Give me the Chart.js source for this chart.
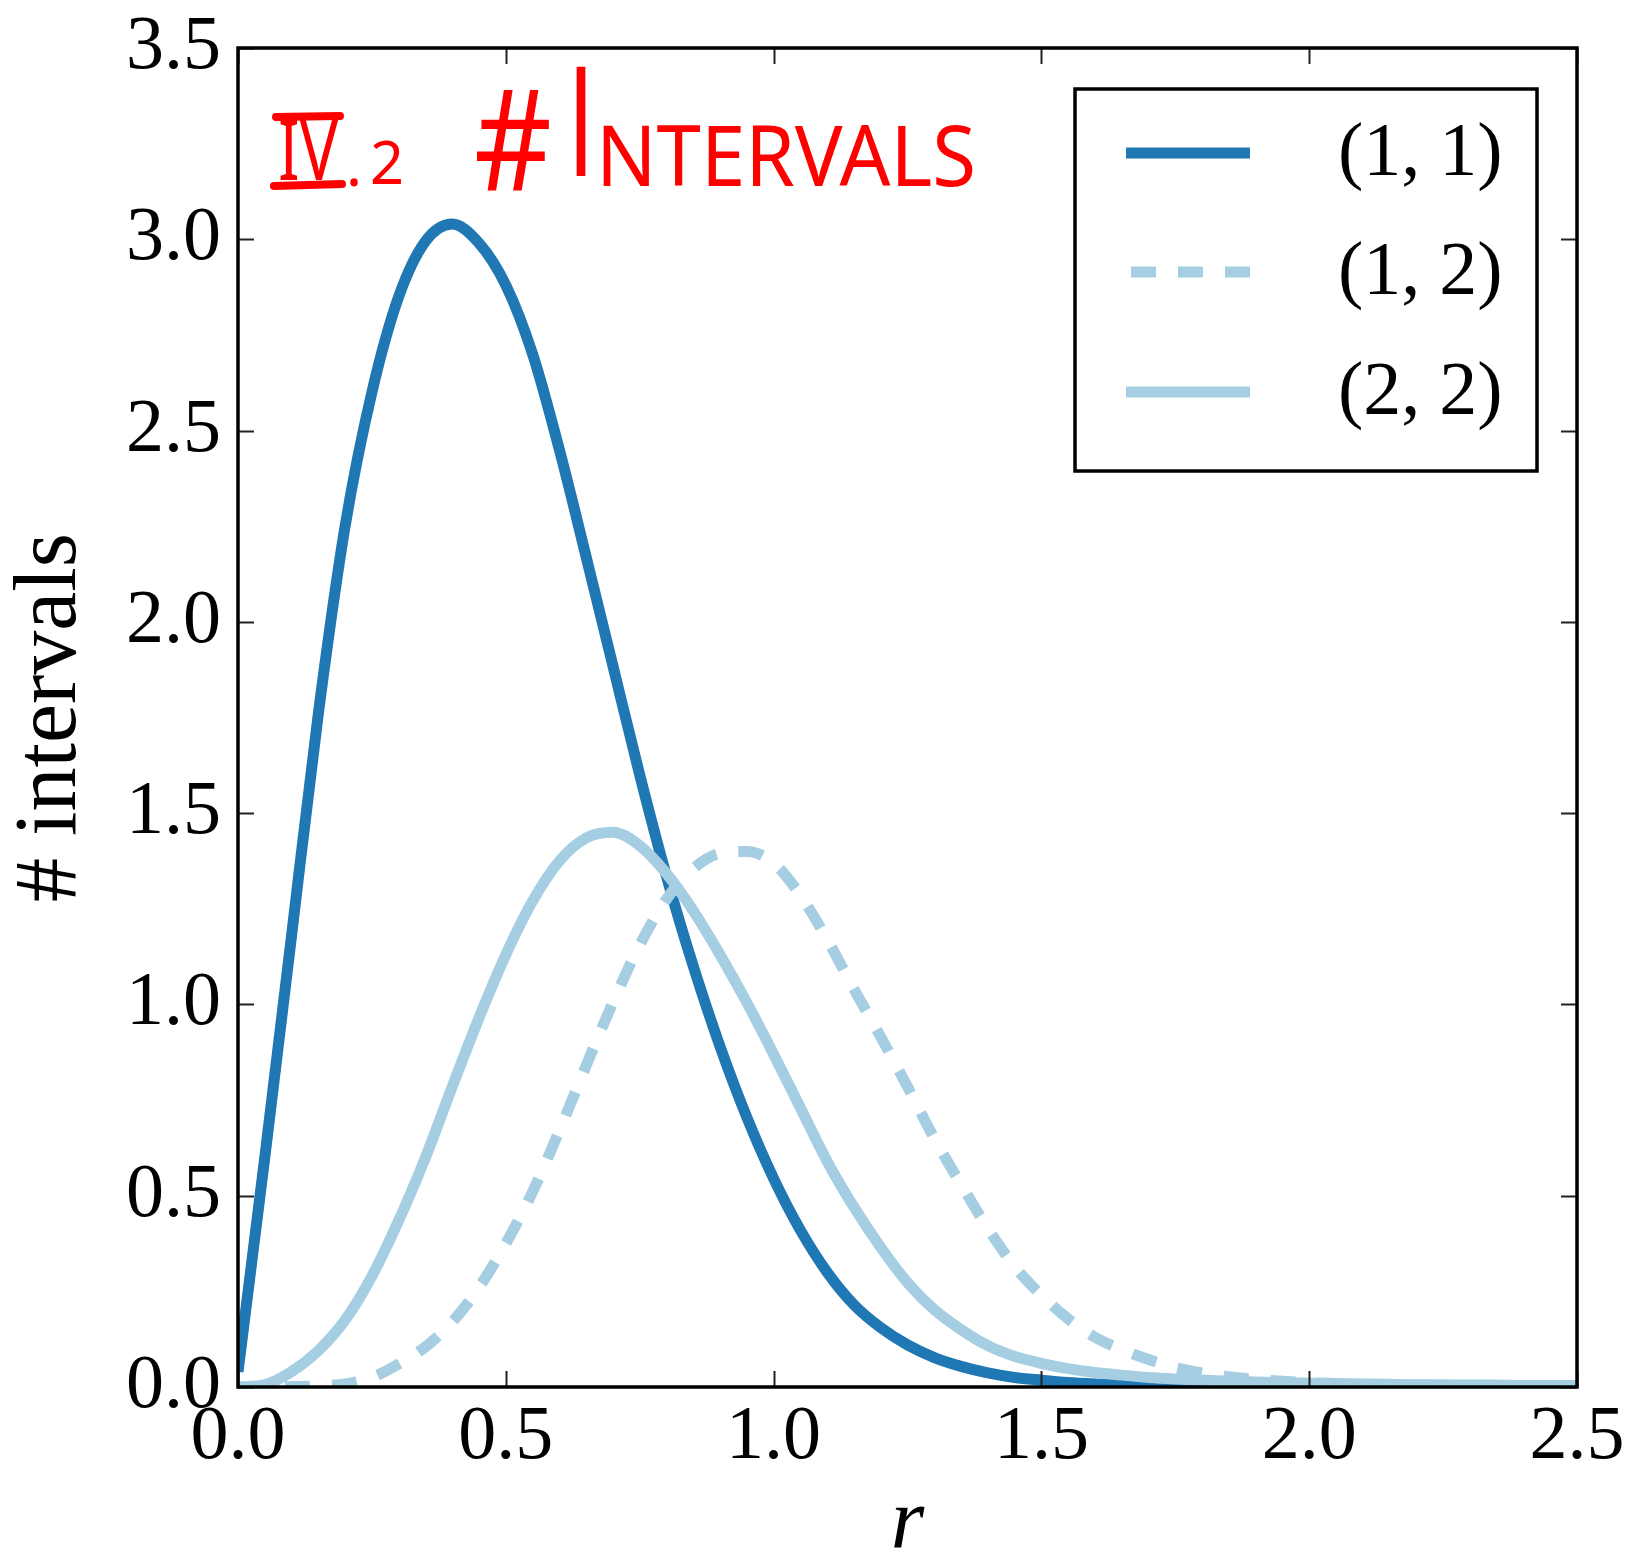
<!DOCTYPE html>
<html>
<head>
<meta charset="utf-8">
<script src="https://cdn.jsdelivr.net/npm/chart.js@4.4.1/dist/chart.umd.min.js"></script>
<style>
    html, body { margin: 0; padding: 0; background: #fff; }
    #wrap { width: 1629px; height: 1560px; position: relative; }
</style>
</head>
<body>
<div id="wrap"><canvas id="myChart"></canvas></div>
<script>
// r values (x axis)
const rValues = [
    0.00, 0.05, 0.10, 0.15, 0.20, 0.25, 0.30, 0.35, 0.40, 0.45,
    0.50, 0.55, 0.60, 0.65, 0.70, 0.75, 0.80, 0.85, 0.90, 0.95,
    1.00, 1.05, 1.10, 1.15, 1.20, 1.25, 1.30, 1.35, 1.40, 1.45,
    1.50, 1.55, 1.60, 1.65, 1.70, 1.75, 1.80, 1.85, 1.90, 1.95,
    2.00, 2.05, 2.10, 2.15, 2.20, 2.25, 2.30, 2.35, 2.40, 2.45, 2.50
];
// (1, 1)
const series11 = [
    0.04, 0.60, 1.18, 1.76, 2.25, 2.60, 2.85, 2.995, 3.04, 2.99,
    2.88, 2.70, 2.45, 2.17, 1.885, 1.60, 1.335, 1.10, 0.89, 0.705,
    0.545, 0.41, 0.30, 0.215, 0.155, 0.11, 0.077, 0.054, 0.037, 0.025,
    0.018, 0.012, 0.008, 0.005, 0.003, 0.002, 0.001, 0, 0, 0,
    0, 0, 0, 0, 0, 0, 0, 0, 0, 0, 0
];
// (1, 2)
const series12 = [
    0, 0, 0.001, 0.003, 0.008, 0.025, 0.06, 0.105, 0.17, 0.26,
    0.375, 0.51, 0.67, 0.84, 1.005, 1.155, 1.275, 1.355, 1.395, 1.40,
    1.37, 1.285, 1.17, 1.04, 0.915, 0.785, 0.65, 0.53, 0.415, 0.315,
    0.24, 0.178, 0.13, 0.098, 0.072, 0.051, 0.037, 0.027, 0.02, 0.015,
    0.011, 0.009, 0.007, 0.006, 0.005, 0.004, 0.003, 0.003, 0.002, 0.002, 0.002
];
// (2, 2)
const series22 = [
    0, 0.006, 0.04, 0.095, 0.175, 0.29, 0.435, 0.60, 0.785, 0.965,
    1.13, 1.27, 1.375, 1.435, 1.45, 1.415, 1.342, 1.245, 1.13, 1.005,
    0.87, 0.73, 0.59, 0.47, 0.365, 0.273, 0.202, 0.15, 0.108, 0.08,
    0.062, 0.048, 0.038, 0.031, 0.025, 0.021, 0.018, 0.015, 0.013, 0.011,
    0.01, 0.009, 0.008, 0.007, 0.006, 0.006, 0.005, 0.005, 0.004, 0.004, 0.004
];
const seriesNames = ["(1, 1)", "(1, 2)", "(2, 2)"];
const xTicks = [0, 0.5, 1.0, 1.5, 2.0, 2.5];
const yTicks = [0, 0.5, 1.0, 1.5, 2.0, 2.5, 3.0, 3.5];

const darkBlue = "#1f78b4";
const lightBlue = "#a6cee3";
const serif = "'Liberation Serif', 'DejaVu Serif', serif";

function toPoints(ys) {
    return rValues.map((r, i) => ({ x: r, y: ys[i] }));
}

// ticks inside, frame, legend box and the red note
const framePlugin = {
    id: "frame",
    afterDatasetsDraw(chart) {
        const { ctx, chartArea: a, scales } = chart;
        ctx.save();

        // ticks on all four sides, pointing inward
        ctx.strokeStyle = "#222";
        ctx.lineWidth = 2;
        const tl = 16;
        ctx.beginPath();
        xTicks.forEach((v) => {
            const px = Math.round(scales.x.getPixelForValue(v)) + 0.5;
            ctx.moveTo(px, a.bottom); ctx.lineTo(px, a.bottom - tl);
            ctx.moveTo(px, a.top); ctx.lineTo(px, a.top + tl);
        });
        yTicks.forEach((v) => {
            const py = Math.round(scales.y.getPixelForValue(v)) + 0.5;
            ctx.moveTo(a.left, py); ctx.lineTo(a.left + tl, py);
            ctx.moveTo(a.right, py); ctx.lineTo(a.right - tl, py);
        });
        ctx.stroke();

        ctx.strokeStyle = "#000";
        ctx.lineWidth = 3.5;
        ctx.strokeRect(a.left, a.top, a.right - a.left, a.bottom - a.top);

        // legend
        const lx = 1075, ly = 89, lw = 462, lh = 382;
        ctx.fillStyle = "#fff";
        ctx.fillRect(lx, ly, lw, lh);
        ctx.lineWidth = 3.5;
        ctx.strokeRect(lx, ly, lw, lh);
        const rows = [153, 272, 392];
        chart.data.datasets.forEach((ds, i) => {
            const y = rows[i];
            ctx.beginPath();
            ctx.strokeStyle = ds.borderColor;
            ctx.lineWidth = ds.borderWidth;
            ctx.lineCap = "butt";
            ctx.setLineDash(ds.borderDash || []);
            ctx.lineDashOffset = -5;
            ctx.moveTo(1126, y);
            ctx.lineTo(1250, y);
            ctx.stroke();
            ctx.setLineDash([]);
            ctx.fillStyle = "#000";
            ctx.font = "76px " + serif;
            ctx.textBaseline = "middle";
            ctx.textAlign = "left";
            ctx.fillText(seriesNames[i], 1338, y + 2);
        });

        // handwritten red note
        ctx.fillStyle = "#ff0000";
        ctx.strokeStyle = "#ff0000";
        ctx.textBaseline = "alphabetic";
        ctx.textAlign = "left";
        ctx.font = "84px 'Noto Sans'";
        ctx.fillText("IV", 278, 180, 60);
        ctx.lineWidth = 8;
        ctx.lineCap = "round";
        ctx.beginPath();
        ctx.moveTo(276, 117); ctx.lineTo(340, 116);
        ctx.moveTo(274, 186); ctx.lineTo(342, 184);
        ctx.stroke();
        ctx.font = "60px 'Noto Sans'";
        ctx.fillText(".", 346, 186);
        ctx.fillText("2", 370, 184, 34);
        ctx.font = "140px 'Noto Sans'";
        ctx.fillText("#", 474, 190, 78);
        ctx.font = "150px 'DejaVu Sans'";
        ctx.fillText("I", 568, 176, 26);
        ctx.font = "84px 'Noto Sans'";
        ctx.fillText("NTERVALS", 596, 186, 380);

        ctx.restore();
    }
};

window.onload = function () {
    const ctx = document.getElementById("myChart").getContext("2d");
    Chart.defaults.color = "#000";

    const myChart = new Chart(ctx, {
        type: "line",
        data: {
            datasets: [
                {
                    label: seriesNames[0],
                    data: toPoints(series11),
                    borderColor: darkBlue,
                    borderWidth: 11,
                    order: 3,
                },
                {
                    label: seriesNames[1],
                    data: toPoints(series12),
                    borderColor: lightBlue,
                    borderWidth: 11,
                    borderDash: [25, 22],
                    order: 2,
                },
                {
                    label: seriesNames[2],
                    data: toPoints(series22),
                    borderColor: lightBlue,
                    borderWidth: 11,
                    order: 1,
                },
            ],
        },
        options: {
            responsive: true,
            maintainAspectRatio: false,
            animation: false,
            devicePixelRatio: 1,
            layout: { padding: { left: 0, top: 48, right: 52, bottom: 0 } },
            elements: {
                point: { radius: 0 },
                line: { cubicInterpolationMode: "monotone", fill: false, borderCapStyle: "butt" },
            },
            plugins: {
                legend: { display: false },
                tooltip: { enabled: false },
            },
            scales: {
                x: {
                    type: "linear",
                    min: 0,
                    max: 2.5,
                    grid: { display: false, drawTicks: false },
                    border: { display: false },
                    afterBuildTicks: (s) => { s.ticks = xTicks.map((v) => ({ value: v })); },
                    afterFit: (s) => {
                        s.height = 173;
                        s.paddingLeft = 0; s.paddingRight = 0;
                    },
                    ticks: {
                        padding: 5,
                        maxRotation: 0,
                        font: { family: serif, size: 76 },
                        callback: (v) => Number(v).toFixed(1),
                    },
                    title: {
                        display: true,
                        text: "r",
                        padding: 0,
                        font: { family: serif, size: 86, style: "italic", lineHeight: 0.8 },
                    },
                },
                y: {
                    min: 0,
                    max: 3.5,
                    grid: { display: false, drawTicks: false },
                    border: { display: false },
                    afterBuildTicks: (s) => { s.ticks = yTicks.map((v) => ({ value: v })); },
                    afterFit: (s) => {
                        s.width = 238;
                        s.paddingTop = 0; s.paddingBottom = 0;
                    },
                    ticks: {
                        padding: 17,
                        font: { family: serif, size: 76 },
                        callback: (v) => Number(v).toFixed(1),
                    },
                    title: {
                        display: true,
                        text: "# intervals",
                        padding: 0,
                        font: { family: serif, size: 88, lineHeight: 1.18 },
                    },
                },
            },
        },
        plugins: [framePlugin],
    });
};
</script>
</body>
</html>
